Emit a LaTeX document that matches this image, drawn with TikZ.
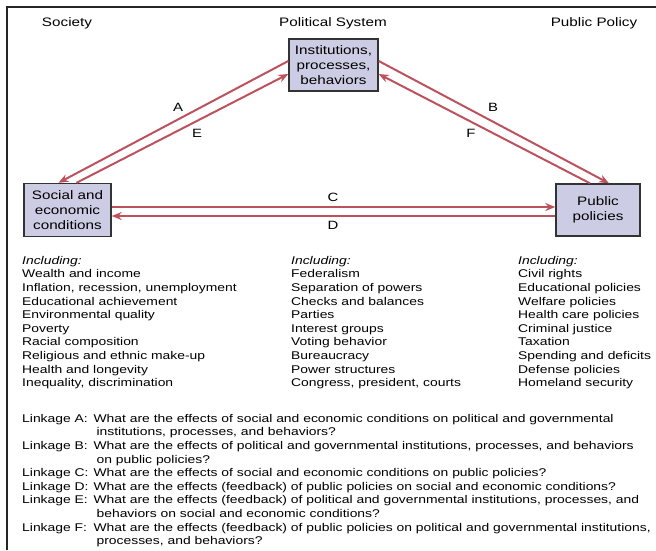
\documentclass[tikz,border=0pt]{standalone}
\usepackage{fontspec}
\setmainfont[FakeStretch=1.24]{Liberation Sans}
\usetikzlibrary{arrows.meta}
\definecolor{linkred}{RGB}{188,82,94}
\definecolor{boxfill}{RGB}{204,204,228}
\tikzset{>={Stealth[length=10pt,width=8pt]}}
\tikzset{
  sysbox/.style={draw=black!80, line width=1.4pt, fill=boxfill, align=center, inner sep=0pt, font=\fontsize{12.3}{14.8}\selectfont},
  linkarrow/.style={linkred, line width=2pt, ->},
  heading/.style={font=\fontsize{12.3}{14.8}\selectfont},
  letter/.style={font=\fontsize{12}{14}\selectfont},
  listcol/.style={anchor=north west, inner sep=0pt, font=\fontsize{11.2}{13.6}\selectfont},
}

\begin{document}
\begin{tikzpicture}[x=1pt,y=-1pt]
\useasboundingbox (0,0) rectangle (656,550);
\draw[line width=1.4pt, black!85] (7,550) |- (656,7);

% headings
\node[heading] (society) at (67,23) {Society};
\node[heading] (polsys) at (333,23) {Political System};
\node[heading] (pubpol) at (594,23) {Public Policy};

% boxes
\node[sysbox, minimum width=89pt, minimum height=52pt] (inst) at (333.5,65) {Institutions,\\processes,\\behaviors};
\node[sysbox, minimum width=87pt, minimum height=53pt] (soc) at (67.5,210) {Social and\\economic\\conditions};
\node[sysbox, minimum width=84pt, minimum height=52pt] (pub) at (598,210) {Public\\policies};

% linkages
\draw[linkarrow] ([yshift=4pt]inst.west) -- ([xshift=-9pt]soc.north);  % A
\draw[linkarrow] ([xshift=9pt]soc.north) -- ([yshift=-9pt]inst.west);  % E
\draw[linkarrow] ([yshift=4pt]inst.east) -- ([xshift=11pt]pub.north);  % B
\draw[linkarrow] ([xshift=-8pt]pub.north) -- ([yshift=-9pt]inst.east); % F
\draw[linkarrow] ([yshift=3pt]soc.east) -- ([yshift=3pt]pub.west);     % C
\draw[linkarrow] ([yshift=-6pt]pub.west) -- ([yshift=-6pt]soc.east);   % D

\node[letter] (la) at (178,107) {A};
\node[letter] (le) at (197,133) {E};
\node[letter] (lb) at (493,107) {B};
\node[letter] (lf) at (471,133) {F};
\node[letter] (lc) at (333,197) {C};
\node[letter] (ld) at (333,225) {D};

% lists
\node[listcol] (soclist) at (22,254.5) {\begin{tabular}{@{}l@{}}
\textit{Including:}\\
Wealth and income\\
Inflation, recession, unemployment\\
Educational achievement\\
Environmental quality\\
Poverty\\
Racial composition\\
Religious and ethnic make-up\\
Health and longevity\\
Inequality, discrimination
\end{tabular}};
\node[listcol] (syslist) at (291,254.5) {\begin{tabular}{@{}l@{}}
\textit{Including:}\\
Federalism\\
Separation of powers\\
Checks and balances\\
Parties\\
Interest groups\\
Voting behavior\\
Bureaucracy\\
Power structures\\
Congress, president, courts
\end{tabular}};
\node[listcol] (pollist) at (518,254.5) {\begin{tabular}{@{}l@{}}
\textit{Including:}\\
Civil rights\\
Educational policies\\
Welfare policies\\
Health care policies\\
Criminal justice\\
Taxation\\
Spending and deficits\\
Defense policies\\
Homeland security
\end{tabular}};

% questions
\node[listcol] (questions) at (22,412.5) {\begin{tabular}{@{}l@{\hspace{5pt}}l@{}}
Linkage A: & What are the effects of social and economic conditions on political and governmental\\
 & \hspace{3pt}institutions, processes, and behaviors?\\
Linkage B: & What are the effects of political and governmental institutions, processes, and behaviors\\
 & \hspace{3pt}on public policies?\\
Linkage C: & What are the effects of social and economic conditions on public policies?\\
Linkage D: & What are the effects (feedback) of public policies on social and economic conditions?\\
Linkage E: & What are the effects (feedback) of political and governmental institutions, processes, and\\
 & \hspace{3pt}behaviors on social and economic conditions?\\
Linkage F: & What are the effects (feedback) of public policies on political and governmental institutions,\\
 & \hspace{3pt}processes, and behaviors?
\end{tabular}};
\end{tikzpicture}
\end{document}
